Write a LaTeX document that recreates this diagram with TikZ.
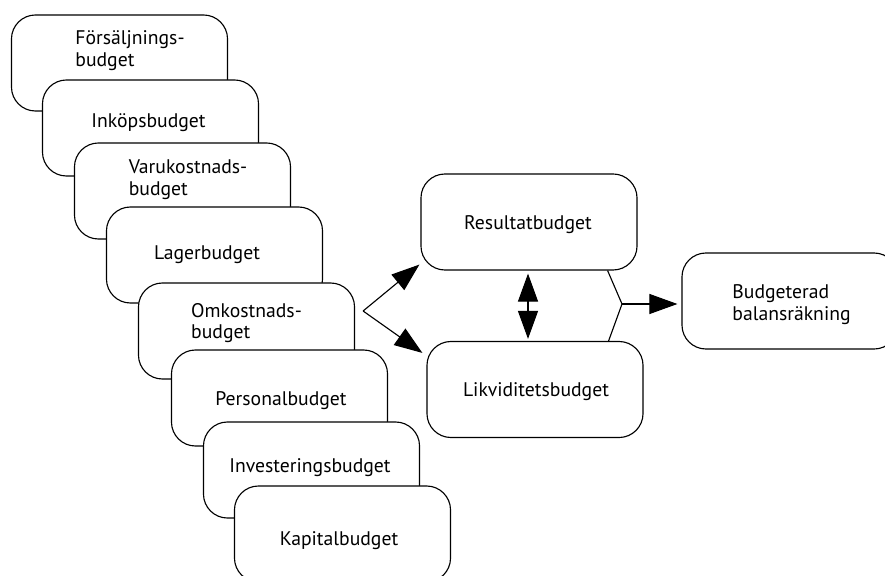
\documentclass[tikz,border=0pt]{standalone}
\usepackage{fontspec}
\setmainfont{PT Sans}
\usetikzlibrary{arrows.meta}
\tikzset{
	budget/.style={draw,fill=white,rounded corners=0.6cm,minimum width=5.4cm,minimum height=2.4cm,inner sep=0pt},
	btext/.style={align=left,inner sep=0pt,font=\fontsize{14}{15.5}\selectfont}
}

\begin{document}
\begin{tikzpicture}[x=0.025cm,y=-0.025cm,line width=0.8pt,>={Triangle[length=0.7cm,width=0.5cm]}]
			\useasboundingbox (0,0) rectangle (885,576);

			\node[budget] (fors) at (119.5,63) {};
			\node[btext] (fors-t) at (130,51) {Försäljnings-\\budget};
			\node[budget] (inkop) at (150.5,128) {};
			\node[btext] (inkop-t) at (148.5,123) {Inköpsbudget};
			\node[budget] (varu) at (182.5,191) {};
			\node[btext] (varu-t) at (188,179.5) {Varukostnads-\\budget};
			\node[budget] (lager) at (214.5,255) {};
			\node[btext] (lager-t) at (207,255) {Lagerbudget};
			\node[budget] (omk) at (246.5,331) {};
			\node[btext] (omk-t) at (246.5,323) {Omkostnads-\\budget};
			\node[budget] (pers) at (279.5,398) {};
			\node[btext] (pers-t) at (281,401) {Personalbudget};
			\node[budget] (inv) at (311.5,470) {};
			\node[btext] (inv-t) at (310,468) {Investeringsbudget};
			\node[budget] (kap) at (342.5,534) {};
			\node[btext] (kap-t) at (339,541) {Kapitalbudget};

			\node[budget] (res) at (529,222) {};
			\node[btext] (res-t) at (528,224.5) {Resultatbudget};
			\node[budget] (lik) at (535,389.5) {};
			\node[btext] (lik-t) at (536,392) {Likviditetsbudget};
			\node[budget] (bud) at (790,301) {};
			\node[btext] (bud-t) at (791.5,305) {Budgeterad\\balansräkning};

			\coordinate (fork) at ([shift={(8,-20)}]omk.east);
			\coordinate (join) at (622,304);

			\draw[->] (fork) -- ([shift={(-1,-6)}]res.south west);
			\draw[->] (fork) -- ([shift={(-4,12)}]lik.north west);
			\draw[<->] ([shift={(-1,3)}]res.south) -- ([shift={(-1,-2)}]res.south |- lik.north);
			\draw ([shift={(-30,0)}]res.south east) -- (join) -- ([shift={(-35,0)}]lik.north east);
			\draw[->] (join) -- ([shift={(-4,0)}]join -| bud.west);
		\end{tikzpicture}
\end{document}
